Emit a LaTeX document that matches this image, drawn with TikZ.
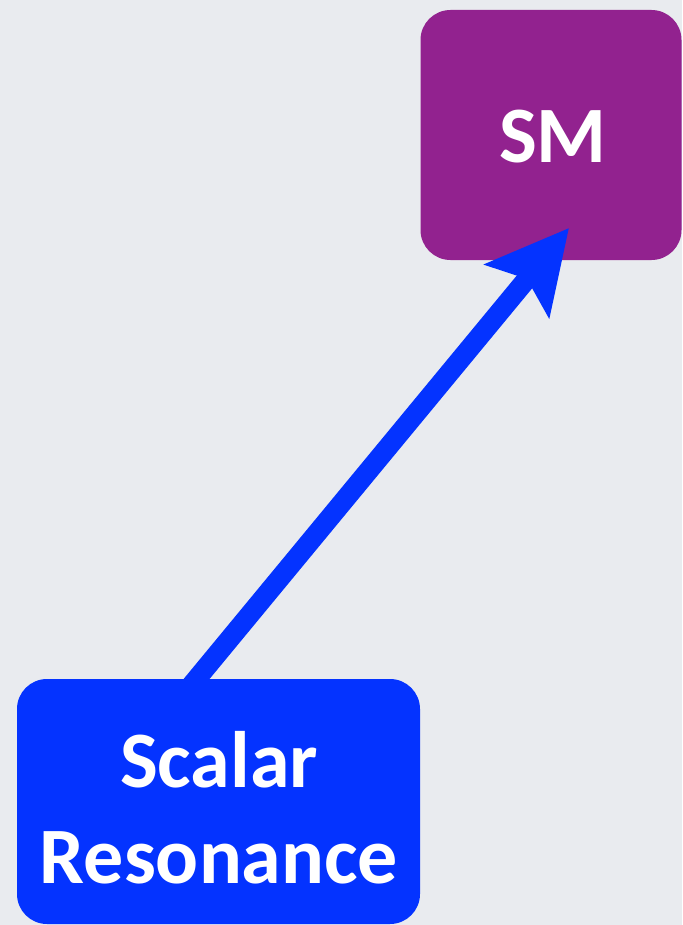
\documentclass[tikz,border=0pt]{standalone}
\usepackage{fontspec}
\setmainfont{Carlito}
\usetikzlibrary{arrows.meta,calc}
\definecolor{bgcol}{HTML}{E9EBEF}
\definecolor{smpurple}{HTML}{92228F}
\definecolor{resblue}{HTML}{0433FF}
\pgfdeclarelayer{front}
\pgfsetlayers{main,front}
\tikzset{
  boxstyle/.style={draw=none, rounded corners=30pt, inner sep=0pt},
  labeltext/.style={text=white, font=\fontsize{80}{96}\selectfont\bfseries, align=center, inner sep=0pt},
  flow/.style={draw=resblue, line width=20pt,
    -{Stealth[length=81pt, width=82pt, inset=15pt]}}
}
\begin{document}
\begin{tikzpicture}[x=1pt, y=-1pt]
  % canvas
  \fill[bgcol] (0,0) rectangle (682,925);
  \useasboundingbox (0,0) rectangle (682,925);

  % target box
  \node[boxstyle, fill=smpurple, minimum width=261pt, minimum height=250pt] (sm) at (551,135) {};
  \node[labeltext] (smtext) at (553,137) {SM};

  % source box sits above the arrow tail
  \begin{pgfonlayer}{front}
    \node[boxstyle, fill=resblue, minimum width=403pt, minimum height=245pt] (sr) at (218.5,801.5) {};
    \node[labeltext, anchor=base] (srtext) at (219,883) {Scalar\\Resonance};
  \end{pgfonlayer}

  % connector
  \coordinate (tail) at ([xshift=-35pt, yshift=-16pt]sr.north);
  \coordinate (tip) at ([xshift=18pt, yshift=-93pt]sm.center);
  \draw[flow] (tail) -- (tip);
\end{tikzpicture}
\end{document}
